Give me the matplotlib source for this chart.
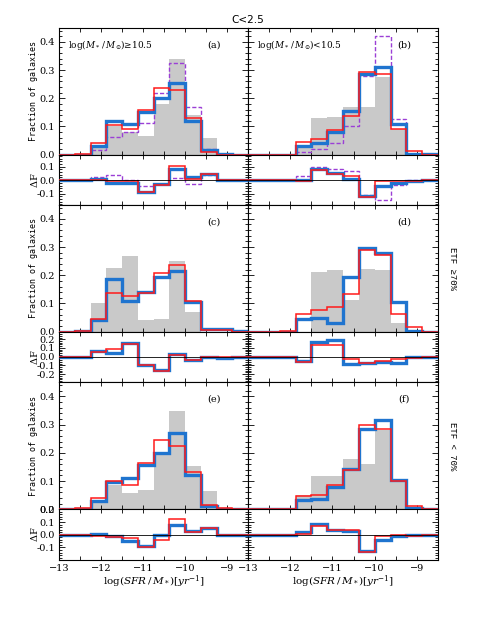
import matplotlib
matplotlib.use('Agg')
import matplotlib.pyplot as plt
from matplotlib.ticker import MultipleLocator, FormatStrFormatter

plt.rcParams['font.family'] = 'DejaVu Serif'
plt.rcParams['mathtext.fontset'] = 'dejavuserif'

# bin edges of log(SFR/M*)
edges = [-13.0, -12.625, -12.25, -11.875, -11.5, -11.125, -10.75,
         -10.375, -10.0, -9.625, -9.25, -8.875, -8.5]

# (a) log M >= 10.5
gray_a = [0, 0, 0.03, 0.10, 0.08, 0.065, 0.18, 0.34, 0.14, 0.06, 0, 0]
blue_a = [0, 0, 0.03, 0.12, 0.11, 0.15, 0.20, 0.255, 0.12, 0.015, 0.003, 0]
red_a = [0, 0.002, 0.04, 0.105, 0.092, 0.157, 0.237, 0.231, 0.13, 0.01, 0, 0]
purp_a = [0, 0, 0.018, 0.062, 0.08, 0.112, 0.217, 0.326, 0.169, 0.02, 0, 0]
dblue_a = [0, 0, 0.005, -0.02, -0.025, -0.085, -0.03, 0.08, 0.025, 0.045, 0, 0]
dred_a = [0, -0.002, 0.004, -0.005, -0.01, -0.092, -0.035, 0.105, 0.012, 0.048, 0, 0]
dpurp_a = [0, 0, 0.02, 0.035, 0.0, -0.045, -0.03, 0.015, -0.03, 0.04, 0, 0]

# (b) log M < 10.5
gray_b = [0, 0, 0, 0.036, 0.13, 0.133, 0.17, 0.17, 0.274, 0.092, 0, 0]
blue_b = [0, 0, 0, 0.03, 0.04, 0.08, 0.155, 0.286, 0.312, 0.11, 0.004, 0.002]
red_b = [0, 0, 0, 0.044, 0.055, 0.086, 0.136, 0.294, 0.286, 0.092, 0.012, 0]
purp_b = [0, 0, 0, 0.008, 0.02, 0.04, 0.10, 0.28, 0.419, 0.127, 0, 0]
dblue_b = [0, 0, 0, 0.003, 0.085, 0.055, 0.01, -0.115, -0.04, -0.02, -0.003, 0]
dred_b = [0, 0, 0, -0.003, 0.075, 0.045, 0.03, -0.125, -0.01, -0.005, -0.01, 0]
dpurp_b = [0, 0, 0, 0.03, 0.10, 0.08, 0.065, -0.11, -0.145, -0.035, 0, 0]

# (c)
gray_c = [0, 0, 0.10, 0.225, 0.268, 0.04, 0.046, 0.252, 0.071, 0, 0, 0]
blue_c = [0, 0.002, 0.04, 0.186, 0.11, 0.14, 0.195, 0.216, 0.105, 0.008, 0.01, 0.002]
red_c = [0, 0.003, 0.045, 0.136, 0.125, 0.136, 0.209, 0.238, 0.11, 0.007, 0.005, 0]
dblue_c = [0, -0.002, 0.06, 0.04, 0.158, -0.10, -0.15, 0.036, -0.034, -0.008, -0.01, -0.002]
dred_c = [0, -0.003, 0.055, 0.09, 0.143, -0.096, -0.163, 0.014, -0.039, -0.007, -0.005, 0]

# (d)
gray_d = [0, 0, 0, 0, 0.21, 0.217, 0.112, 0.222, 0.217, 0.03, 0, 0]
blue_d = [0, 0, 0, 0.045, 0.047, 0.031, 0.195, 0.296, 0.28, 0.105, 0.003, 0]
red_d = [0, 0, 0.004, 0.0615, 0.077, 0.086, 0.134, 0.29, 0.272, 0.0615, 0.015, 0]
dblue_d = [0, 0, 0, -0.045, 0.165, 0.188, -0.084, -0.074, -0.063, -0.075, -0.003, 0]
dred_d = [0, 0, -0.004, -0.06, 0.135, 0.13, -0.022, -0.068, -0.055, -0.03, -0.015, 0]

# (e)
gray_e = [0, 0, 0.03, 0.085, 0.057, 0.067, 0.20, 0.35, 0.153, 0.065, 0, 0]
blue_e = [0, 0.002, 0.03, 0.097, 0.11, 0.156, 0.20, 0.27, 0.123, 0.012, 0.002, 0]
red_e = [0, 0.003, 0.04, 0.10, 0.085, 0.164, 0.244, 0.225, 0.133, 0.015, 0.003, 0]
dblue_e = [0, -0.002, 0.003, -0.012, -0.053, -0.089, -0.004, 0.08, 0.03, 0.053, -0.002, 0]
dred_e = [0, -0.003, -0.008, -0.015, -0.028, -0.097, -0.044, 0.125, 0.02, 0.05, -0.003, 0]

# (f)
gray_f = [0, 0, 0, 0.05, 0.117, 0.117, 0.177, 0.162, 0.28, 0.097, 0, 0]
blue_f = [0, 0, 0, 0.032, 0.035, 0.079, 0.144, 0.283, 0.315, 0.105, 0.005, 0]
red_f = [0, 0, 0, 0.047, 0.052, 0.085, 0.14, 0.297, 0.286, 0.099, 0.01, 0]
dblue_f = [0, 0, 0, 0.018, 0.082, 0.038, 0.03, -0.128, -0.038, -0.008, -0.005, 0]
dred_f = [0, 0, 0, 0.005, 0.068, 0.035, 0.035, -0.138, -0.008, -0.003, -0.01, 0]

panel_letters = ['(a)', '(b)', '(c)', '(d)', '(e)', '(f)']
mass_labels = [r'$\log(M_*\,/\,M_{\odot})$' + '\u226510.5',
               r'$\log(M_*\,/\,M_{\odot})$' + '<10.5']
row_labels = [None, 'ETF \u226570%', 'ETF < 70%']

panels = [
    (gray_a, blue_a, red_a, purp_a, dblue_a, dred_a, dpurp_a),
    (gray_b, blue_b, red_b, purp_b, dblue_b, dred_b, dpurp_b),
    (gray_c, blue_c, red_c, None, dblue_c, dred_c, None),
    (gray_d, blue_d, red_d, None, dblue_d, dred_d, None),
    (gray_e, blue_e, red_e, None, dblue_e, dred_e, None),
    (gray_f, blue_f, red_f, None, dblue_f, dred_f, None),
]
res_lims = [(-0.187, 0.19), (-0.293, 0.287), (-0.197, 0.2)]

BLUE = '#1f74cf'
RED = '#ff1a1a'
PURP = '#9b3fd6'
GRAY = '#c9c9c9'

W, H = 491, 635
fig = plt.figure(figsize=(W / 100, H / 100), dpi=100)


def px_axes(x0, y0, x1, y1):
    return fig.add_axes([x0 / W, 1 - y1 / H, (x1 - x0) / W, (y1 - y0) / H])


def style(ax, xlab, ylab):
    ax.set_xlim(-13, -8.5)
    ax.xaxis.set_major_locator(MultipleLocator(1))
    ax.xaxis.set_minor_locator(MultipleLocator(0.5))
    ax.yaxis.set_major_locator(MultipleLocator(0.1))
    ax.yaxis.set_minor_locator(MultipleLocator(0.02))
    ax.yaxis.set_major_formatter(FormatStrFormatter('%.1f'))
    ax.tick_params(which='both', direction='in', top=True, right=True,
                   labelsize=7, width=0.6, pad=3)
    ax.tick_params(axis='x', which='both', length=3)
    ax.tick_params(axis='y', which='major', length=4)
    ax.tick_params(axis='y', which='minor', length=2)
    ax.tick_params(labelbottom=xlab, labelleft=ylab)
    for s in ax.spines.values():
        s.set_linewidth(0.8)


col_x = [(59, 248), (248, 438)]
row_y = [27.7, 204.7, 382.3]
main_h, res_h = 127, 50.5

for i, (gray, blue, red, purp, dblue, dred, dpurp) in enumerate(panels):
    row, col = divmod(i, 2)
    x0, x1 = col_x[col]
    top = row_y[row]
    ax = px_axes(x0, top, x1, top + main_h)
    rx = px_axes(x0, top + main_h, x1, top + main_h + res_h)

    # main histogram panel
    ax.stairs(gray, edges, fill=True, color=GRAY, lw=0, zorder=1)
    if purp is not None:
        ax.stairs(purp, edges, color=PURP, lw=1.0, ls=(0, (3, 1.5)), zorder=2)
    ax.stairs(blue, edges, color=BLUE, lw=2.4, zorder=3)
    ax.stairs(red, edges, color=RED, lw=1.1, zorder=4)
    ax.set_ylim(0, 0.45)
    style(ax, False, col == 0)

    # residual panel
    rx.axhline(0, color='k', lw=0.6, zorder=5)
    if dpurp is not None:
        rx.stairs(dpurp, edges, baseline=None, color=PURP, lw=1.0,
                  ls=(0, (3, 1.5)), zorder=2)
    rx.stairs(dblue, edges, baseline=None, color=BLUE, lw=2.4, zorder=3)
    rx.stairs(dred, edges, baseline=None, color=RED, lw=1.1, zorder=4)
    rx.set_ylim(*res_lims[row])
    style(rx, row == 2, col == 0)

    fig.text((x1 - 34) / W, 1 - (top + 17) / H, panel_letters[i],
             fontsize=7, ha='center', va='center')

    if row == 0:
        fig.text((x0 + 9) / W, 1 - (top + 17) / H, mass_labels[col],
                 fontsize=6.4, ha='left', va='center')

    if col == 0:
        fig.text(34 / W, 1 - (top + main_h / 2) / H, 'Fraction of galaxies',
                 family='DejaVu Sans Mono', fontsize=6, rotation=90,
                 ha='center', va='center')
        fig.text(34 / W, 1 - (top + main_h + res_h / 2) / H, r'$\Delta$F',
                 fontsize=7, rotation=90, ha='center', va='center')
    if row == 2:
        fig.text((x0 + x1) / 2 / W, 1 - 582 / H,
                 r'$\log(SFR\,/\,M_*)[yr^{-1}]$',
                 fontsize=7.5, ha='center', va='center')
    if col == 1 and row_labels[row] is not None:
        fig.text(453 / W, 1 - (top + main_h / 2) / H, row_labels[row],
                 family=['Liberation Mono', 'DejaVu Sans Mono'], fontsize=6.5,
                 rotation=270, ha='center', va='center')

fig.text(248 / W, 1 - 20 / H, 'C<2.5', family='DejaVu Sans', fontsize=7.5,
         ha='center', va='center')

fig.savefig('out.png', dpi=100)
